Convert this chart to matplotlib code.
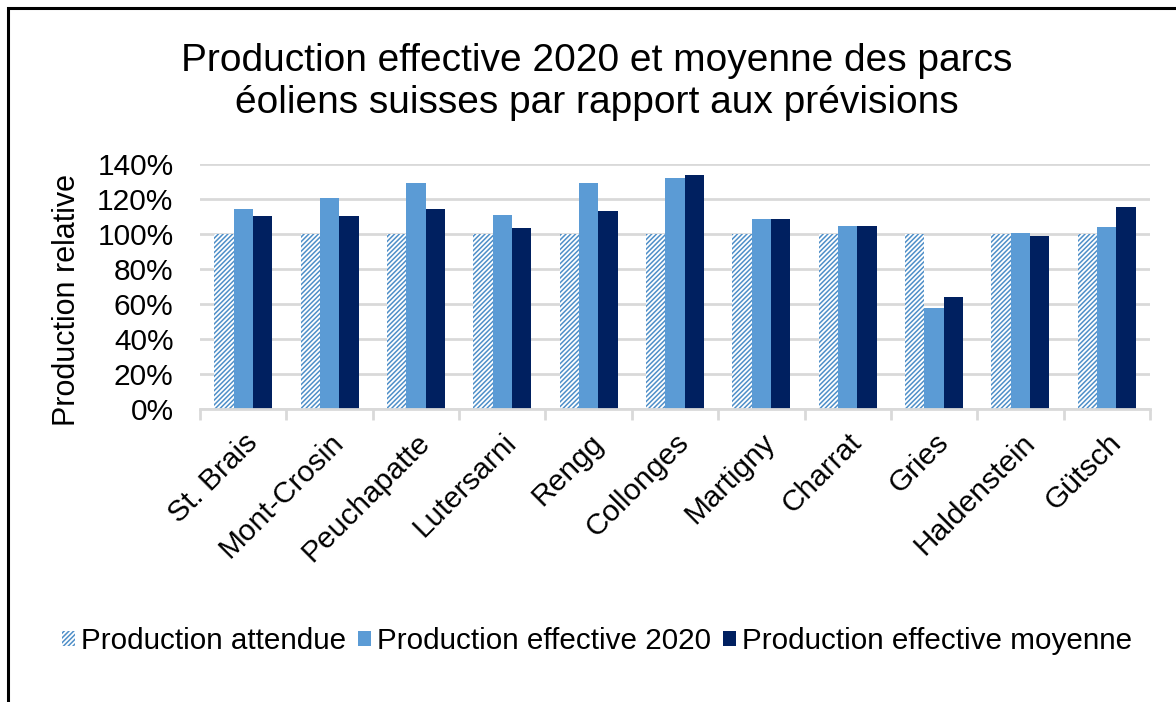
import matplotlib
matplotlib.use("Agg")
import matplotlib.pyplot as plt
import numpy as np
from matplotlib.patches import Rectangle
from matplotlib.ticker import FuncFormatter, FixedLocator

plt.rcParams['font.family'] = ['Liberation Sans', 'DejaVu Sans']
plt.rcParams['hatch.linewidth'] = 1.1

categories = ["St. Brais", "Mont-Crosin", "Peuchapatte", "Lutersarni", "Rengg",
              "Collonges", "Martigny", "Charrat", "Gries", "Haldenstein", "Gütsch"]
prod_attendue = [1.00] * 11
prod_2020 = [1.145, 1.208, 1.293, 1.110, 1.293, 1.320, 1.088, 1.046, 0.575, 1.004, 1.038]
prod_moyenne = [1.101, 1.101, 1.145, 1.032, 1.131, 1.335, 1.088, 1.046, 0.640, 0.990, 1.153]
series_names = ["Production attendue", "Production effective 2020", "Production effective moyenne"]

c_hatch = "#4F8FC8"
c_light = "#5B9BD5"
c_dark = "#002060"

fig = plt.figure(figsize=(11.76, 7.02), dpi=100)
W, H = 1176, 702
ax = fig.add_axes([200 / W, 1 - 409 / H, 950 / W, 245 / H])

x = np.arange(len(categories))
bw = 0.224
b1 = ax.bar(x - bw, prod_attendue, bw, color="white", edgecolor=c_hatch, hatch="///////",
            linewidth=0, label=series_names[0], zorder=3)
b2 = ax.bar(x, prod_2020, bw, color=c_light, label=series_names[1], zorder=3)
b3 = ax.bar(x + bw, prod_moyenne, bw, color=c_dark, label=series_names[2], zorder=3)

ax.set_xlim(-0.5, len(categories) - 0.5)
ax.set_ylim(0, 1.4)
ax.yaxis.set_major_locator(FixedLocator(np.arange(0, 1.41, 0.2)))
ax.yaxis.set_major_formatter(FuncFormatter(lambda v, p: f"{v*100:.0f}%"))
ax.grid(axis="y", color="#D9D9D9", linewidth=2, zorder=0)
for s in ["top", "right", "left"]:
    ax.spines[s].set_visible(False)
ax.spines["bottom"].set_color("#D9D9D9")
ax.spines["bottom"].set_linewidth(2)
ax.spines["bottom"].set_zorder(4)
ax.tick_params(axis="y", length=0, labelsize=21.5, pad=19)
ax.set_xticks(np.arange(-0.5, len(categories), 1.0), minor=False)
ax.set_xticklabels([])
ax.tick_params(axis="x", which="major", length=8, width=2, color="#D9D9D9", direction="out")
ax.set_xticks(x, minor=True)
ax.set_xticklabels(categories, minor=True, rotation=45, ha="right", rotation_mode="anchor", fontsize=21.5)
ax.tick_params(axis="x", which="minor", length=0, pad=14)

ax.set_ylabel("Production relative", fontsize=22)
ax.yaxis.set_label_coords(-0.124, 0.445)

fig.text(597 / W, 1 - 82 / H, "Production effective 2020 et moyenne des parcs\néoliens suisses par rapport aux prévisions",
         ha="center", va="center", fontsize=28, linespacing=1.2)

fig.legend(handles=[b1, b2, b3], labels=series_names, loc="center", bbox_to_anchor=(597 / W, 1 - 641 / H),
           ncol=3, frameon=False, fontsize=21.3, handlelength=0.45, handleheight=0.45, handletextpad=0.2,
           columnspacing=0.4)

fig.patches.append(Rectangle((8 / W, -0.1), 1.2, 1 - 8 / H + 0.1, transform=fig.transFigure,
                             fill=False, edgecolor="black", linewidth=2.2))

fig.savefig("out.png", dpi=100, facecolor="white")
